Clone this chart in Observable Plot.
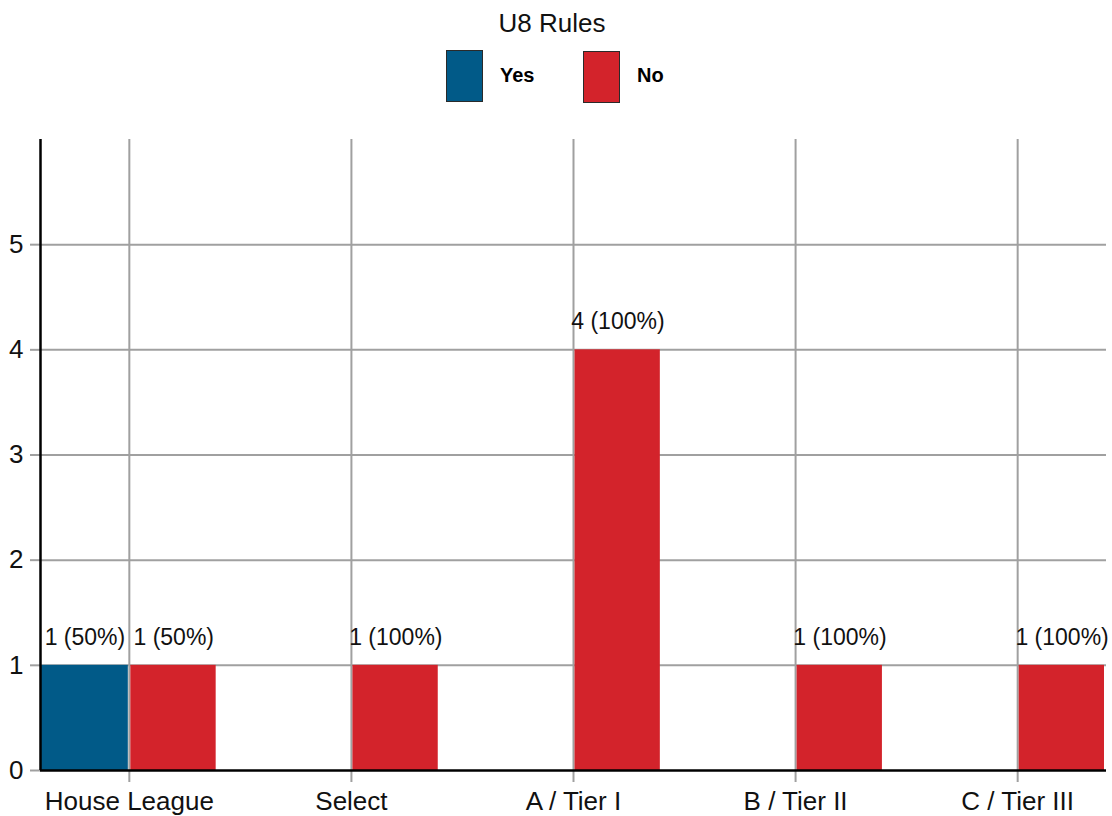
<!DOCTYPE html>
<html>
<head>
<meta charset="utf-8">
<script src="https://cdn.jsdelivr.net/npm/d3@7"></script>
<script src="https://cdn.jsdelivr.net/npm/@observablehq/plot@0.6"></script>
<style>
  html, body { margin: 0; padding: 0; background: #fff; }
  body { width: 1112px; font-family: "Liberation Sans", Arial, sans-serif; }
  #legend { position: relative; width: 1112px; height: 112px; }
  #legend .title { position: absolute; left: 0; width: 1104px; top: 10px; text-align: center;
    font-size: 26px; line-height: 26px; color: #111; }
  #legend .swatch { position: absolute; width: 37px; height: 52px; box-sizing: border-box;
    border: 1.5px solid #2a2a2a; }
  #legend .label { position: absolute; font-size: 20px; line-height: 20px; font-weight: bold; color: #000; }
</style>
</head>
<body>
<div id="legend"></div>
<div id="chart"></div>
<script>
// Survey: do the leagues apply U8 rules?
const categories = ["House League", "Select", "A / Tier I", "B / Tier II", "C / Tier III"];
const answers = ["Yes", "No"];
const yesCounts = [1, 0, 0, 0, 0];
const noCounts = [1, 1, 4, 1, 1];
const answerColors = ["#015a88", "#d3232b"];
const yTicks = [0, 1, 2, 3, 4, 5];
const legendTitle = "U8 Rules";

// One row per category and answer; Yes sits left of the category line, No right of it.
const barWidth = 0.4;
const rows = [];
categories.forEach((category, i) => {
  const total = yesCounts[i] + noCounts[i];
  [yesCounts[i], noCounts[i]].forEach((count, k) => {
    const answer = answers[k];
    rows.push({
      category,
      answer,
      count,
      x1: answer === "Yes" ? i - barWidth : i,
      x2: answer === "Yes" ? i : i + barWidth,
      label: `${count} (${Math.round((count / total) * 100)}%)`
    });
  });
});
const shown = rows.filter((d) => d.count > 0);
const xDomain = [-barWidth, categories.length - 1 + barWidth];

// Legend above the plot
const legend = document.getElementById("legend");
legend.innerHTML = `<div class="title">${legendTitle}</div>`;
const swatchPos = [{sx: 446, sy: 50, lx: 500}, {sx: 583, sy: 51, lx: 637}];
answers.forEach((a, k) => {
  const p = swatchPos[k];
  legend.insertAdjacentHTML("beforeend",
    `<div class="swatch" style="left:${p.sx}px;top:${p.sy}px;background:${answerColors[k]}"></div>` +
    `<div class="label" style="left:${p.lx}px;top:65px">${a}</div>`);
});

const gridColor = "#a0a0a0";

const chart = Plot.plot({
  width: 1112,
  height: 704,
  marginTop: 27,
  marginBottom: 46,
  marginLeft: 40,
  marginRight: 6,
  style: {fontFamily: "Liberation Sans, Arial, sans-serif", fontSize: "26px", background: "#fff", color: "#111"},
  x: {type: "linear", domain: xDomain, label: null},
  y: {domain: [0, 6], label: null},
  color: {domain: answers, range: answerColors},
  marks: [
    Plot.gridY(yTicks.slice(1), {stroke: gridColor, strokeOpacity: 1, strokeWidth: 2}),
    Plot.gridX(d3.range(categories.length), {stroke: gridColor, strokeOpacity: 1, strokeWidth: 2}),
    Plot.rectY(shown.filter((d) => d.answer === "Yes"), {
      x1: "x1", x2: "x2", y: "count", fill: (d) => d.answer, insetRight: 1
    }),
    Plot.rectY(shown.filter((d) => d.answer === "No"), {
      x1: "x1", x2: "x2", y: "count", fill: (d) => d.answer, insetLeft: 1.5, insetRight: 2
    }),
    Plot.text(shown, {
      x: (d) => (d.x1 + d.x2) / 2,
      y: "count",
      text: "label",
      dy: -28,
      fontSize: 23,
      fill: "#111"
    }),
    Plot.axisY(yTicks, {
      tickSize: 10, tickPadding: 7, stroke: gridColor, strokeWidth: 2, fill: "#111",
      fontSize: 26, label: null, tickFormat: d3.format("d")
    }),
    Plot.axisX(d3.range(categories.length), {
      tickSize: 12, tickPadding: 9, stroke: gridColor, strokeWidth: 2, fill: "#111",
      fontSize: 26, label: null, tickFormat: (i) => categories[i]
    }),
    Plot.ruleX([xDomain[0]], {stroke: "#000", strokeWidth: 2.5}),
    Plot.ruleY([0], {stroke: "#000", strokeWidth: 2.5})
  ]
});
document.getElementById("chart").appendChild(chart);
</script>
</body>
</html>
